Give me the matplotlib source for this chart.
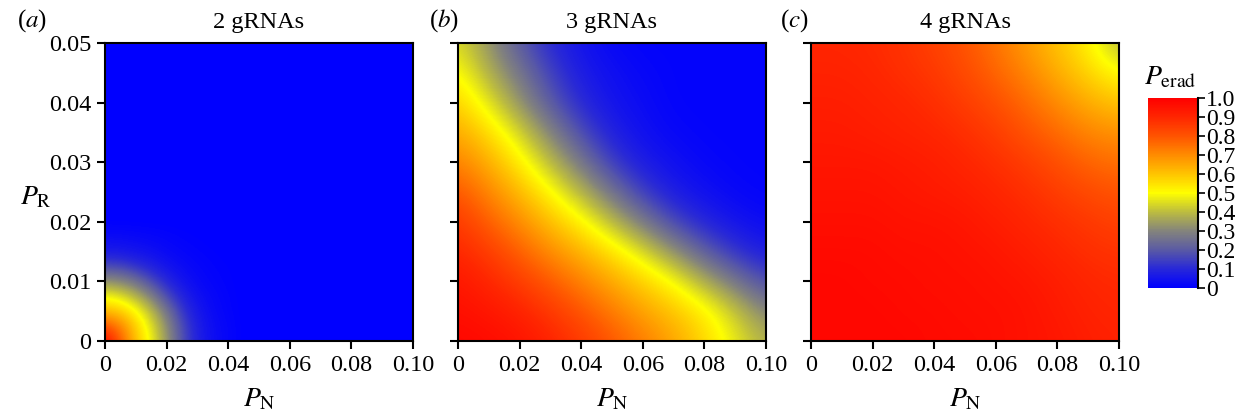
import numpy as np
import matplotlib.pyplot as plt
from matplotlib.colors import LinearSegmentedColormap, Normalize
from matplotlib.cm import ScalarMappable

plt.rcParams['font.family'] = 'Liberation Serif'
plt.rcParams['mathtext.fontset'] = 'stix'

# colour scale (value -> colour)
cbar_vals = [0.0, 0.1, 0.2, 0.3, 0.4, 0.5, 0.6, 0.7, 0.8, 0.9, 1.0]
cbar_cols = ['#0000ff', '#2828d8', '#5a5aa4', '#84847c', '#bcbc40', '#ffff00',
             '#ffc400', '#ff8c00', '#ff5400', '#ff2600', '#ff0000']
cbar_ticks = [0, 0.1, 0.2, 0.3, 0.4, 0.5, 0.6, 0.7, 0.8, 0.9, 1.0]
cbar_labels = ['0', '0.1', '0.2', '0.3', '0.4', '0.5', '0.6', '0.7', '0.8', '0.9', '1.0']

titles = ['2 gRNAs', '3 gRNAs', '4 gRNAs']
panel_tags = ['($a$)', '($b$)', '($c$)']
xticks = [0, 0.02, 0.04, 0.06, 0.08, 0.10]
xtick_labels = ['0', '0.02', '0.04', '0.06', '0.08', '0.10']
yticks = [0, 0.01, 0.02, 0.03, 0.04, 0.05]
ytick_labels = ['0', '0.01', '0.02', '0.03', '0.04', '0.05']

# grid nodes (P_N across, P_R up)
pn_fine = [0, 0.005, 0.01, 0.015, 0.02, 0.025, 0.03, 0.035, 0.04, 0.045, 0.05,
           0.055, 0.06, 0.065, 0.07, 0.075, 0.08, 0.085, 0.09, 0.095, 0.1]
pr_fine = [0, 0.0025, 0.005, 0.0075, 0.01, 0.0125, 0.015, 0.0175, 0.02, 0.0225, 0.025,
           0.0275, 0.03, 0.0325, 0.035, 0.0375, 0.04, 0.0425, 0.045, 0.0475, 0.05]
pn_coarse = [0, 0.01, 0.02, 0.03, 0.04, 0.05, 0.06, 0.07, 0.08, 0.09, 0.1]
pr_coarse = [0, 0.005, 0.01, 0.015, 0.02, 0.025, 0.03, 0.035, 0.04, 0.045, 0.05]

# (a) 2 gRNAs: only the lower-left corner (P_N <= 0.04, P_R <= 0.0175) is above zero
erad_2_corner = [
    [0.97, 0.79, 0.61, 0.48, 0.34, 0.18, 0.08, 0.035, 0.015],
    [0.81, 0.72, 0.58, 0.46, 0.32, 0.17, 0.075, 0.033, 0.015],
    [0.62, 0.59, 0.51, 0.40, 0.27, 0.13, 0.06, 0.025, 0.01],
    [0.49, 0.46, 0.39, 0.30, 0.17, 0.09, 0.04, 0.02, 0.008],
    [0.33, 0.31, 0.26, 0.17, 0.10, 0.05, 0.025, 0.012, 0.005],
    [0.17, 0.16, 0.12, 0.085, 0.05, 0.03, 0.016, 0.008, 0.004],
    [0.065, 0.06, 0.05, 0.04, 0.025, 0.015, 0.008, 0.004, 0.0],
    [0.03, 0.028, 0.023, 0.018, 0.012, 0.006, 0.003, 0.0, 0.0],
]

# (b) 3 gRNAs
erad_3 = [
    [0.98, 0.97, 0.95, 0.91, 0.86, 0.80, 0.73, 0.66, 0.57, 0.47, 0.38],
    [0.96, 0.94, 0.91, 0.86, 0.80, 0.73, 0.66, 0.60, 0.53, 0.42, 0.30],
    [0.94, 0.90, 0.85, 0.79, 0.72, 0.65, 0.58, 0.50, 0.38, 0.27, 0.17],
    [0.90, 0.85, 0.78, 0.70, 0.63, 0.55, 0.45, 0.33, 0.21, 0.12, 0.07],
    [0.86, 0.78, 0.70, 0.61, 0.52, 0.40, 0.28, 0.16, 0.09, 0.05, 0.03],
    [0.80, 0.71, 0.62, 0.51, 0.39, 0.26, 0.14, 0.07, 0.04, 0.02, 0.01],
    [0.72, 0.64, 0.53, 0.40, 0.27, 0.14, 0.07, 0.04, 0.02, 0.01, 0.01],
    [0.65, 0.56, 0.44, 0.30, 0.17, 0.08, 0.04, 0.02, 0.01, 0.01, 0.01],
    [0.58, 0.46, 0.33, 0.20, 0.10, 0.05, 0.03, 0.01, 0.01, 0.01, 0.01],
    [0.51, 0.38, 0.27, 0.15, 0.07, 0.04, 0.02, 0.01, 0.01, 0.01, 0.01],
    [0.45, 0.33, 0.20, 0.10, 0.05, 0.02, 0.01, 0.01, 0.01, 0.01, 0.01],
]

# (c) 4 gRNAs
erad_4 = [
    [0.98, 0.98, 0.98, 0.98, 0.97, 0.97, 0.96, 0.95, 0.94, 0.92, 0.91],
    [0.98, 0.98, 0.98, 0.97, 0.97, 0.96, 0.96, 0.95, 0.93, 0.91, 0.90],
    [0.98, 0.98, 0.97, 0.97, 0.96, 0.96, 0.95, 0.94, 0.92, 0.90, 0.89],
    [0.97, 0.97, 0.97, 0.96, 0.96, 0.95, 0.94, 0.92, 0.90, 0.88, 0.87],
    [0.96, 0.96, 0.96, 0.95, 0.95, 0.94, 0.92, 0.90, 0.88, 0.86, 0.84],
    [0.95, 0.95, 0.95, 0.94, 0.93, 0.92, 0.90, 0.88, 0.85, 0.82, 0.80],
    [0.94, 0.94, 0.94, 0.93, 0.92, 0.90, 0.88, 0.85, 0.81, 0.77, 0.75],
    [0.93, 0.93, 0.92, 0.91, 0.90, 0.88, 0.85, 0.80, 0.76, 0.71, 0.69],
    [0.92, 0.92, 0.91, 0.90, 0.88, 0.85, 0.81, 0.76, 0.70, 0.64, 0.60],
    [0.91, 0.91, 0.90, 0.88, 0.86, 0.82, 0.77, 0.71, 0.64, 0.57, 0.50],
    [0.90, 0.90, 0.89, 0.87, 0.84, 0.80, 0.74, 0.67, 0.60, 0.52, 0.38],
]

erad_2 = np.zeros((len(pr_fine), len(pn_fine)))
corner = np.array(erad_2_corner)
erad_2[:corner.shape[0], :corner.shape[1]] = corner

fields = [(pn_fine, pr_fine, erad_2),
          (pn_coarse, pr_coarse, np.array(erad_3)),
          (pn_coarse, pr_coarse, np.array(erad_4))]

cmap = LinearSegmentedColormap.from_list('erad', list(zip(cbar_vals, cbar_cols)))
norm = Normalize(0, 1)

fig = plt.figure(figsize=(12.47, 4.17), dpi=100)
lefts = [105, 458, 811]
tag_x = [-0.285, -0.095, -0.10]
for i, (xs, ys, z) in enumerate(fields):
    ax = fig.add_axes([lefts[i] / 1247, 1 - 341 / 417, 308 / 1247, 298 / 417])
    dx = xs[1] - xs[0]
    dy = ys[1] - ys[0]
    ax.imshow(np.clip(z, 0, 1), origin='lower', aspect='auto', cmap=cmap, norm=norm,
              interpolation='bicubic', interpolation_stage='data',
              extent=[xs[0] - dx / 2, xs[-1] + dx / 2, ys[0] - dy / 2, ys[-1] + dy / 2])
    ax.set_xlim(0, 0.1)
    ax.set_ylim(0, 0.05)
    ax.set_xticks(xticks)
    ax.set_xticklabels(xtick_labels)
    ax.set_yticks(yticks)
    if i == 0:
        ax.set_yticklabels(ytick_labels)
        ax.set_ylabel(r'$P_{\mathrm{R}}$', rotation=0, fontsize=20, ha='center', va='center')
        ax.yaxis.set_label_coords(-0.225, 0.48)
    else:
        ax.set_yticklabels([])
    ax.set_xlabel(r'$P_{\mathrm{N}}$', fontsize=20, labelpad=8)
    ax.tick_params(direction='out', length=6, width=1.5, pad=4, labelsize=17.5)
    for s in ax.spines.values():
        s.set_linewidth(1.5)
    ax.set_title(titles[i], fontsize=17.5, pad=11)
    ax.text(tag_x[i], 1.054, panel_tags[i], transform=ax.transAxes, fontsize=18,
            ha='left', va='baseline')

cax = fig.add_axes([1148 / 1247, 1 - 288 / 417, 50 / 1247, 190 / 417])
cb = fig.colorbar(ScalarMappable(norm=norm, cmap=cmap), cax=cax, ticks=cbar_ticks)
cb.ax.set_yticklabels(cbar_labels)
cb.outline.set_visible(False)
cax.plot([1, 1], [0, 1], transform=cax.transAxes, color='k', lw=1.5, clip_on=False)
cax.tick_params(direction='out', length=5, width=1.2, pad=1, labelsize=17)
cax.text(0.45, 1.04, r'$P_{\mathrm{erad}}$', transform=cax.transAxes, fontsize=20,
         ha='center', va='bottom')

fig.savefig('out.png', dpi=100)
